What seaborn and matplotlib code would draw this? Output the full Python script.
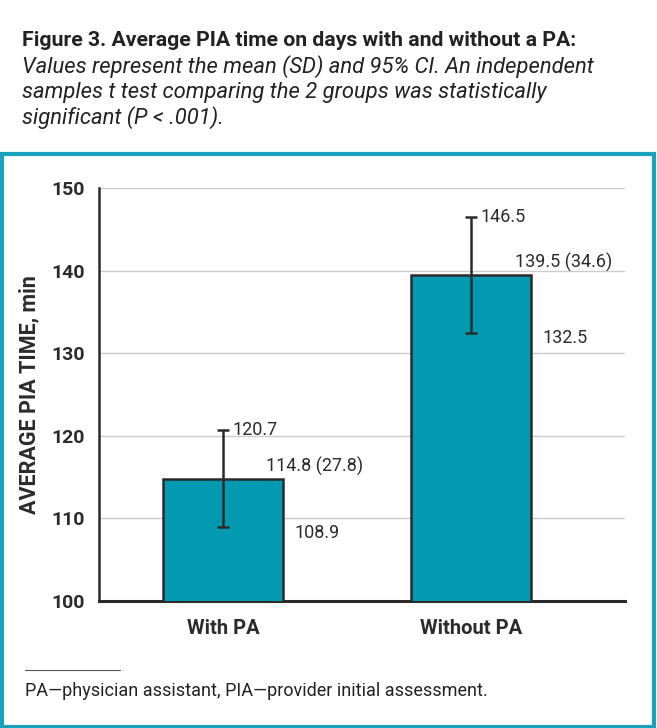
import numpy as np
import pandas as pd
import matplotlib
matplotlib.use("Agg")
import matplotlib.pyplot as plt
import seaborn as sns
from matplotlib.patches import Rectangle
from matplotlib.lines import Line2D

# values
groups = ["With PA", "Without PA"]
means = [114.8, 139.5]
sds = [27.8, 34.6]
ci_low = [108.9, 132.5]
ci_high = [120.7, 146.5]

data = pd.DataFrame({"group": groups, "mean": means, "sd": sds,
                     "lo": ci_low, "hi": ci_high})

sns.set_style("white")
plt.rcParams["font.family"] = ["Roboto", "DejaVu Sans"]

teal = "#0399b1"
dark = "#2b2b2b"

fig = plt.figure(figsize=(6.57, 7.28), dpi=100)
ax = fig.add_axes([99 / 657, 1 - 601 / 728, (625 - 99) / 657, (601 - 188) / 728])

sns.barplot(data=data, x="group", y="mean", color=teal, width=0.484,
            edgecolor=dark, linewidth=1.8, saturation=1, ax=ax, zorder=3)
for p in ax.patches:
    p.set_facecolor(teal)

yerr = [data["mean"] - data["lo"], data["hi"] - data["mean"]]
ax.errorbar(x=np.arange(len(data)), y=data["mean"], yerr=yerr, fmt="none",
            ecolor=dark, elinewidth=1.8, capsize=4.5, capthick=1.8, zorder=4)

# labels
for i, row in data.iterrows():
    ax.annotate(f"{row['hi']:.1f}", xy=(i, row["hi"]), xytext=(7, 0),
                textcoords="offset points", ha="left", va="center",
                fontsize=13, color=dark)
    ax.annotate(f"{row['mean']:.1f} ({row['sd']:.1f})", xy=(i + 0.242, row["mean"]),
                xytext=(-12, 9), textcoords="offset points", ha="left",
                va="center", fontsize=13, color=dark)
    ax.annotate(f"{row['lo']:.1f}", xy=(i + 0.242, row["lo"]), xytext=(8, -4),
                textcoords="offset points", ha="left", va="center",
                fontsize=13, color=dark)

ax.set_ylim(100, 150)
ax.set_xlim(-0.5, 1.62)
ax.set_yticks(range(100, 151, 10))
ax.yaxis.grid(True, color="#cccccc", linewidth=1)
ax.set_axisbelow(True)
sns.despine(ax=ax)
ax.spines["left"].set_color(dark)
ax.spines["left"].set_linewidth(1.8)
ax.spines["bottom"].set_color(dark)
ax.spines["bottom"].set_linewidth(2.2)
ax.tick_params(axis="y", length=0, pad=10, labelsize=14, labelcolor=dark)
ax.tick_params(axis="x", length=0, pad=13, labelsize=14.5, labelcolor=dark)
for lab in ax.get_xticklabels() + ax.get_yticklabels():
    lab.set_fontweight("bold")
ax.set_xlabel("")
ax.set_ylabel("AVERAGE PIA TIME, min", fontsize=15.5, fontweight="bold",
              color=dark, labelpad=8)

# header text
fig.text(22 / 657, 1 - 40 / 728, "Figure 3. Average PIA time on days with and without a PA:",
         fontsize=15.3, fontweight="bold", color="#222222", va="center")
sub = ["Values represent the mean (SD) and 95% CI. An independent",
       "samples t test comparing the 2 groups was statistically",
       "significant (P < .001)."]
for k, line in enumerate(sub):
    fig.text(22 / 657, 1 - (67 + 25.5 * k) / 728, line, fontsize=15.8,
             style="italic", color="#222222", va="center")

# frame around the chart
fig.patches.append(Rectangle((1.5 / 657, 0.002), 652 / 657, 1 - 154 / 728 - 0.002,
                             transform=fig.transFigure, fill=False,
                             edgecolor="#19a2bd", linewidth=3))

# footnote
fig.lines.append(Line2D([25 / 657, 120 / 657], [1 - 670 / 728] * 2,
                        transform=fig.transFigure, color="#555555", linewidth=0.8))
fig.text(25 / 657, 1 - 691 / 728, "PA\u2014physician assistant, PIA\u2014provider initial assessment.",
         fontsize=13, color="#222222", va="center")

fig.savefig("out.png", dpi=100)
